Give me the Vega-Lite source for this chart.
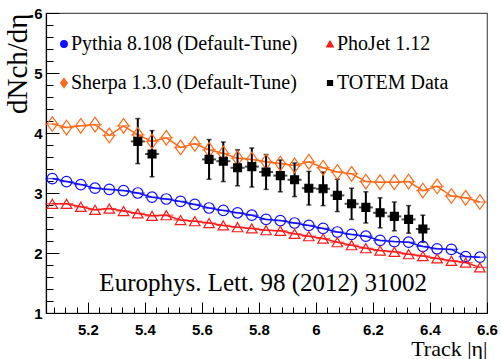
{
  "$schema": "https://vega.github.io/schema/vega-lite/v6.json",
  "width": 441,
  "height": 300,
  "autosize": "none",
  "padding": {"left": 46, "top": 13, "right": 14, "bottom": 46},
  "background": "white",
  "config": {
    "font": "Liberation Serif",
    "view": {"stroke": "#555", "strokeWidth": 1.2},
    "axis": {"grid": false}
  },
  "datasets": {
    "pts": [
      {"s": "Pythia 8.108 (Default-Tune)", "eta": 5.075, "v": 3.24},
      {"s": "Pythia 8.108 (Default-Tune)", "eta": 5.125, "v": 3.19},
      {"s": "Pythia 8.108 (Default-Tune)", "eta": 5.175, "v": 3.14},
      {"s": "Pythia 8.108 (Default-Tune)", "eta": 5.225, "v": 3.08},
      {"s": "Pythia 8.108 (Default-Tune)", "eta": 5.275, "v": 3.06},
      {"s": "Pythia 8.108 (Default-Tune)", "eta": 5.325, "v": 3.04},
      {"s": "Pythia 8.108 (Default-Tune)", "eta": 5.375, "v": 3.00},
      {"s": "Pythia 8.108 (Default-Tune)", "eta": 5.425, "v": 2.93},
      {"s": "Pythia 8.108 (Default-Tune)", "eta": 5.475, "v": 2.90},
      {"s": "Pythia 8.108 (Default-Tune)", "eta": 5.525, "v": 2.86},
      {"s": "Pythia 8.108 (Default-Tune)", "eta": 5.575, "v": 2.81},
      {"s": "Pythia 8.108 (Default-Tune)", "eta": 5.625, "v": 2.75},
      {"s": "Pythia 8.108 (Default-Tune)", "eta": 5.675, "v": 2.71},
      {"s": "Pythia 8.108 (Default-Tune)", "eta": 5.725, "v": 2.67},
      {"s": "Pythia 8.108 (Default-Tune)", "eta": 5.775, "v": 2.63},
      {"s": "Pythia 8.108 (Default-Tune)", "eta": 5.825, "v": 2.56},
      {"s": "Pythia 8.108 (Default-Tune)", "eta": 5.875, "v": 2.54},
      {"s": "Pythia 8.108 (Default-Tune)", "eta": 5.925, "v": 2.50},
      {"s": "Pythia 8.108 (Default-Tune)", "eta": 5.975, "v": 2.46},
      {"s": "Pythia 8.108 (Default-Tune)", "eta": 6.025, "v": 2.41},
      {"s": "Pythia 8.108 (Default-Tune)", "eta": 6.075, "v": 2.35},
      {"s": "Pythia 8.108 (Default-Tune)", "eta": 6.125, "v": 2.31},
      {"s": "Pythia 8.108 (Default-Tune)", "eta": 6.175, "v": 2.28},
      {"s": "Pythia 8.108 (Default-Tune)", "eta": 6.225, "v": 2.21},
      {"s": "Pythia 8.108 (Default-Tune)", "eta": 6.275, "v": 2.19},
      {"s": "Pythia 8.108 (Default-Tune)", "eta": 6.325, "v": 2.18},
      {"s": "Pythia 8.108 (Default-Tune)", "eta": 6.375, "v": 2.11},
      {"s": "Pythia 8.108 (Default-Tune)", "eta": 6.425, "v": 2.07},
      {"s": "Pythia 8.108 (Default-Tune)", "eta": 6.475, "v": 2.06},
      {"s": "Pythia 8.108 (Default-Tune)", "eta": 6.525, "v": 1.94},
      {"s": "Pythia 8.108 (Default-Tune)", "eta": 6.575, "v": 1.93},
      {"s": "PhoJet 1.12", "eta": 5.075, "v": 2.82},
      {"s": "PhoJet 1.12", "eta": 5.125, "v": 2.82},
      {"s": "PhoJet 1.12", "eta": 5.175, "v": 2.77},
      {"s": "PhoJet 1.12", "eta": 5.225, "v": 2.72},
      {"s": "PhoJet 1.12", "eta": 5.275, "v": 2.74},
      {"s": "PhoJet 1.12", "eta": 5.325, "v": 2.70},
      {"s": "PhoJet 1.12", "eta": 5.375, "v": 2.66},
      {"s": "PhoJet 1.12", "eta": 5.425, "v": 2.62},
      {"s": "PhoJet 1.12", "eta": 5.475, "v": 2.63},
      {"s": "PhoJet 1.12", "eta": 5.525, "v": 2.55},
      {"s": "PhoJet 1.12", "eta": 5.575, "v": 2.53},
      {"s": "PhoJet 1.12", "eta": 5.625, "v": 2.50},
      {"s": "PhoJet 1.12", "eta": 5.675, "v": 2.46},
      {"s": "PhoJet 1.12", "eta": 5.725, "v": 2.43},
      {"s": "PhoJet 1.12", "eta": 5.775, "v": 2.41},
      {"s": "PhoJet 1.12", "eta": 5.825, "v": 2.38},
      {"s": "PhoJet 1.12", "eta": 5.875, "v": 2.37},
      {"s": "PhoJet 1.12", "eta": 5.925, "v": 2.32},
      {"s": "PhoJet 1.12", "eta": 5.975, "v": 2.28},
      {"s": "PhoJet 1.12", "eta": 6.025, "v": 2.24},
      {"s": "PhoJet 1.12", "eta": 6.075, "v": 2.18},
      {"s": "PhoJet 1.12", "eta": 6.125, "v": 2.13},
      {"s": "PhoJet 1.12", "eta": 6.175, "v": 2.08},
      {"s": "PhoJet 1.12", "eta": 6.225, "v": 2.04},
      {"s": "PhoJet 1.12", "eta": 6.275, "v": 2.02},
      {"s": "PhoJet 1.12", "eta": 6.325, "v": 1.98},
      {"s": "PhoJet 1.12", "eta": 6.375, "v": 1.95},
      {"s": "PhoJet 1.12", "eta": 6.425, "v": 1.91},
      {"s": "PhoJet 1.12", "eta": 6.475, "v": 1.87},
      {"s": "PhoJet 1.12", "eta": 6.525, "v": 1.84},
      {"s": "PhoJet 1.12", "eta": 6.575, "v": 1.76},
      {"s": "Sherpa 1.3.0 (Default-Tune)", "eta": 5.075, "v": 4.15},
      {"s": "Sherpa 1.3.0 (Default-Tune)", "eta": 5.125, "v": 4.09},
      {"s": "Sherpa 1.3.0 (Default-Tune)", "eta": 5.175, "v": 4.12},
      {"s": "Sherpa 1.3.0 (Default-Tune)", "eta": 5.225, "v": 4.14},
      {"s": "Sherpa 1.3.0 (Default-Tune)", "eta": 5.275, "v": 3.96},
      {"s": "Sherpa 1.3.0 (Default-Tune)", "eta": 5.325, "v": 4.12},
      {"s": "Sherpa 1.3.0 (Default-Tune)", "eta": 5.375, "v": 3.97},
      {"s": "Sherpa 1.3.0 (Default-Tune)", "eta": 5.425, "v": 3.86},
      {"s": "Sherpa 1.3.0 (Default-Tune)", "eta": 5.475, "v": 3.92},
      {"s": "Sherpa 1.3.0 (Default-Tune)", "eta": 5.525, "v": 3.76},
      {"s": "Sherpa 1.3.0 (Default-Tune)", "eta": 5.575, "v": 3.82},
      {"s": "Sherpa 1.3.0 (Default-Tune)", "eta": 5.625, "v": 3.72},
      {"s": "Sherpa 1.3.0 (Default-Tune)", "eta": 5.675, "v": 3.66},
      {"s": "Sherpa 1.3.0 (Default-Tune)", "eta": 5.725, "v": 3.58},
      {"s": "Sherpa 1.3.0 (Default-Tune)", "eta": 5.775, "v": 3.56},
      {"s": "Sherpa 1.3.0 (Default-Tune)", "eta": 5.825, "v": 3.52},
      {"s": "Sherpa 1.3.0 (Default-Tune)", "eta": 5.875, "v": 3.49},
      {"s": "Sherpa 1.3.0 (Default-Tune)", "eta": 5.925, "v": 3.46},
      {"s": "Sherpa 1.3.0 (Default-Tune)", "eta": 5.975, "v": 3.52},
      {"s": "Sherpa 1.3.0 (Default-Tune)", "eta": 6.025, "v": 3.42},
      {"s": "Sherpa 1.3.0 (Default-Tune)", "eta": 6.075, "v": 3.35},
      {"s": "Sherpa 1.3.0 (Default-Tune)", "eta": 6.125, "v": 3.32},
      {"s": "Sherpa 1.3.0 (Default-Tune)", "eta": 6.175, "v": 3.19},
      {"s": "Sherpa 1.3.0 (Default-Tune)", "eta": 6.225, "v": 3.18},
      {"s": "Sherpa 1.3.0 (Default-Tune)", "eta": 6.275, "v": 3.18},
      {"s": "Sherpa 1.3.0 (Default-Tune)", "eta": 6.325, "v": 3.19},
      {"s": "Sherpa 1.3.0 (Default-Tune)", "eta": 6.375, "v": 3.04},
      {"s": "Sherpa 1.3.0 (Default-Tune)", "eta": 6.425, "v": 3.11},
      {"s": "Sherpa 1.3.0 (Default-Tune)", "eta": 6.475, "v": 2.95},
      {"s": "Sherpa 1.3.0 (Default-Tune)", "eta": 6.525, "v": 2.92},
      {"s": "Sherpa 1.3.0 (Default-Tune)", "eta": 6.575, "v": 2.85},
      {"s": "TOTEM Data", "eta": 5.375, "v": 3.86, "lo": 3.49, "hi": 4.24},
      {"s": "TOTEM Data", "eta": 5.425, "v": 3.65, "lo": 3.27, "hi": 4.04},
      {"s": "TOTEM Data", "eta": 5.625, "v": 3.56, "lo": 3.23, "hi": 3.89},
      {"s": "TOTEM Data", "eta": 5.675, "v": 3.53, "lo": 3.19, "hi": 3.85},
      {"s": "TOTEM Data", "eta": 5.725, "v": 3.42, "lo": 3.12, "hi": 3.72},
      {"s": "TOTEM Data", "eta": 5.775, "v": 3.44, "lo": 3.10, "hi": 3.75},
      {"s": "TOTEM Data", "eta": 5.825, "v": 3.35, "lo": 3.06, "hi": 3.64},
      {"s": "TOTEM Data", "eta": 5.875, "v": 3.29, "lo": 3.02, "hi": 3.55},
      {"s": "TOTEM Data", "eta": 5.925, "v": 3.22, "lo": 2.94, "hi": 3.50},
      {"s": "TOTEM Data", "eta": 5.975, "v": 3.08, "lo": 2.80, "hi": 3.36},
      {"s": "TOTEM Data", "eta": 6.025, "v": 3.07, "lo": 2.79, "hi": 3.35},
      {"s": "TOTEM Data", "eta": 6.075, "v": 2.96, "lo": 2.69, "hi": 3.23},
      {"s": "TOTEM Data", "eta": 6.125, "v": 2.82, "lo": 2.56, "hi": 3.08},
      {"s": "TOTEM Data", "eta": 6.175, "v": 2.76, "lo": 2.50, "hi": 3.02},
      {"s": "TOTEM Data", "eta": 6.225, "v": 2.67, "lo": 2.42, "hi": 2.92},
      {"s": "TOTEM Data", "eta": 6.275, "v": 2.61, "lo": 2.37, "hi": 2.85},
      {"s": "TOTEM Data", "eta": 6.325, "v": 2.56, "lo": 2.33, "hi": 2.79},
      {"s": "TOTEM Data", "eta": 6.375, "v": 2.40, "lo": 2.18, "hi": 2.63}
    ],
    "note": [
      {"eta": 5.815, "v": 1.5, "label": "Europhys. Lett. 98 (2012) 31002"}
    ]
  },
  "encoding": {
    "x": {
      "field": "eta",
      "type": "quantitative",
      "scale": {"domain": [5.053, 6.6], "nice": false, "zero": false},
      "axis": {
        "title": "Track |η|",
        "titleAnchor": "end",
        "titlePadding": -4,
        "titleFont": "Liberation Serif",
        "titleFontWeight": "normal",
        "titleFontSize": 22,
        "titleColor": "black",
        "labelFont": "Liberation Sans",
        "labelFontWeight": "bold",
        "labelFontSize": 15,
        "labelColor": "black",
        "labelFlush": false,
        "labelOverlap": false,
        "domainColor": "black",
        "domainWidth": 1.2,
        "tickColor": "black",
        "grid": false,
        "values": [5.08, 5.12, 5.16, 5.2, 5.24, 5.28, 5.32, 5.36, 5.4, 5.44, 5.48, 5.52, 5.56, 5.6, 5.64, 5.68, 5.72, 5.76, 5.8, 5.84, 5.88, 5.92, 5.96, 6.0, 6.04, 6.08, 6.12, 6.16, 6.2, 6.24, 6.28, 6.32, 6.36, 6.4, 6.44, 6.48, 6.52, 6.56, 6.6],
        "labelExpr": "abs(datum.value*5 - round(datum.value*5)) < 0.001 ? format(datum.value, '~g') : ''",
        "tickSize": {"condition": {"test": "abs(datum.value*5 - round(datum.value*5)) < 0.001", "value": -11}, "value": -6},
        "labelPadding": 20
      }
    },
    "y": {
      "field": "v",
      "type": "quantitative",
      "scale": {"domain": [1, 6], "nice": false, "zero": false},
      "axis": {
        "title": "dNch/dη",
        "titleAnchor": "end",
        "titlePadding": 1,
        "titleFont": "Liberation Serif",
        "titleFontWeight": "normal",
        "titleFontSize": 29,
        "titleColor": "black",
        "labelFont": "Liberation Sans",
        "labelFontWeight": "bold",
        "labelFontSize": 15,
        "labelColor": "black",
        "labelFlush": false,
        "labelOverlap": false,
        "domainColor": "black",
        "domainWidth": 1.2,
        "tickColor": "black",
        "grid": false,
        "values": [1, 1.2, 1.4, 1.6, 1.8, 2, 2.2, 2.4, 2.6, 2.8, 3, 3.2, 3.4, 3.6, 3.8, 4, 4.2, 4.4, 4.6, 4.8, 5, 5.2, 5.4, 5.6, 5.8, 6],
        "labelExpr": "abs(datum.value - round(datum.value)) < 0.001 ? format(datum.value, '~g') : ''",
        "tickSize": {"condition": {"test": "abs(datum.value - round(datum.value)) < 0.001", "value": -13}, "value": -7},
        "labelPadding": 17
      }
    }
  },
  "layer": [
    {
      "data": {"name": "pts"},
      "transform": [{"filter": "datum.s !== 'TOTEM Data'"}],
      "mark": {"type": "line", "strokeWidth": 1.5},
      "encoding": {
        "stroke": {
          "field": "s", "type": "nominal", "title": null,
          "scale": {"domain": ["Pythia 8.108 (Default-Tune)", "Sherpa 1.3.0 (Default-Tune)", "PhoJet 1.12", "TOTEM Data"], "range": ["#1010ff", "#ff6a1a", "#ff1a1a", "black"]}
        },
        "order": {"field": "eta"}
      }
    },
    {
      "data": {"name": "pts"},
      "transform": [{"filter": "datum.s !== 'TOTEM Data'"}],
      "mark": {"type": "tick", "orient": "horizontal", "size": 14, "thickness": 1.3},
      "encoding": {
        "color": {
          "field": "s", "type": "nominal", "title": null,
          "scale": {"domain": ["Pythia 8.108 (Default-Tune)", "Sherpa 1.3.0 (Default-Tune)", "PhoJet 1.12", "TOTEM Data"], "range": ["#1010ff", "#ff6a1a", "#ff1a1a", "black"]}
        }
      }
    },
    {
      "data": {"name": "pts"},
      "transform": [{"filter": "datum.s === 'TOTEM Data'"}],
      "mark": {"type": "rule", "color": "black", "strokeWidth": 2},
      "encoding": {
        "y": {"field": "lo", "type": "quantitative", "title": "dNch/dη"},
        "y2": {"field": "hi"}
      }
    },
    {
      "data": {"name": "pts"},
      "transform": [{"filter": "datum.s === 'TOTEM Data'"}],
      "mark": {"type": "tick", "orient": "horizontal", "size": 5, "thickness": 1.5, "color": "black"},
      "encoding": {
        "y": {"field": "lo", "type": "quantitative", "title": "dNch/dη"}
      }
    },
    {
      "data": {"name": "pts"},
      "transform": [{"filter": "datum.s === 'TOTEM Data'"}],
      "mark": {"type": "tick", "orient": "horizontal", "size": 5, "thickness": 1.5, "color": "black"},
      "encoding": {
        "y": {"field": "hi", "type": "quantitative", "title": "dNch/dη"}
      }
    },
    {
      "data": {"name": "pts"},
      "transform": [{"filter": "datum.s === 'TOTEM Data'"}],
      "mark": {"type": "tick", "orient": "horizontal", "size": 14, "thickness": 2, "color": "black"}
    },
    {
      "data": {"name": "pts"},
      "mark": {"type": "point", "size": 110, "strokeWidth": 1.2, "opacity": 1},
      "encoding": {
        "stroke": {
          "field": "s", "type": "nominal", "title": null,
          "scale": {"domain": ["Pythia 8.108 (Default-Tune)", "Sherpa 1.3.0 (Default-Tune)", "PhoJet 1.12", "TOTEM Data"], "range": ["#1010ff", "#ff6a1a", "#ff1a1a", "black"]},
          "legend": {
            "orient": "none",
            "legendX": 8,
            "legendY": 21,
            "columns": 2,
            "direction": "vertical",
            "columnPadding": 22,
            "rowPadding": 19,
            "labelFont": "Liberation Serif",
            "labelFontSize": 20,
            "labelColor": "black",
            "labelLimit": 400,
            "labelOffset": -3,
            "symbolSize": 45,
            "symbolStrokeWidth": 1.2
          }
        },
        "shape": {
          "field": "s", "type": "nominal", "title": null,
          "scale": {"domain": ["Pythia 8.108 (Default-Tune)", "Sherpa 1.3.0 (Default-Tune)", "PhoJet 1.12", "TOTEM Data"], "range": ["circle", "M0,-1.4L1,0L0,1.4L-1,0Z", "triangle-up", "M-0.75,-0.75H0.75V0.75H-0.75Z"]}
        },
        "fill": {
          "field": "s", "type": "nominal", "title": null,
          "scale": {"domain": ["Pythia 8.108 (Default-Tune)", "Sherpa 1.3.0 (Default-Tune)", "PhoJet 1.12", "TOTEM Data"], "range": ["transparent", "transparent", "transparent", "black"]}
        }
      }
    },
    {
      "data": {"name": "note"},
      "mark": {"type": "text", "font": "Liberation Serif", "fontSize": 25, "align": "center", "baseline": "middle", "color": "black"},
      "encoding": {
        "text": {"field": "label"}
      }
    }
  ]
}
